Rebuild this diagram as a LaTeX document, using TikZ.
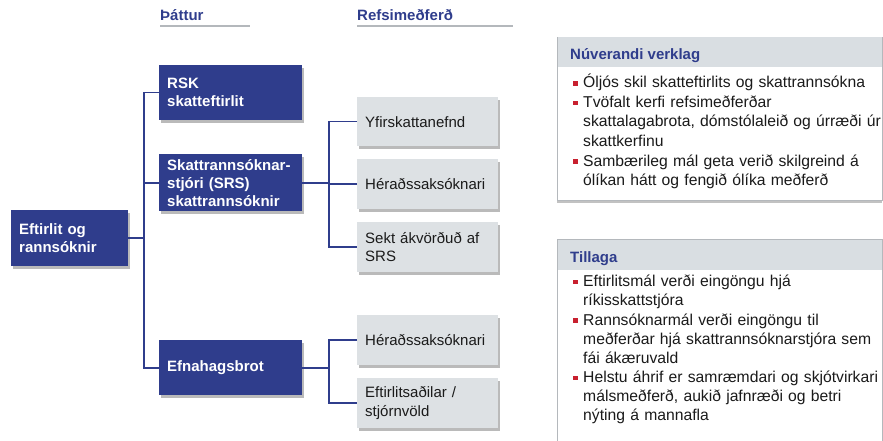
\documentclass[tikz,border=0pt]{standalone}
\usepackage{fontspec}
\setmainfont{Liberation Sans}
\usetikzlibrary{shadows}
\definecolor{navy}{HTML}{2F3D8C}
\definecolor{boxgray}{HTML}{DDE1E4}
\definecolor{bandgray}{HTML}{D9DEE2}
\definecolor{linegray}{HTML}{B4B8BC}
\definecolor{bulred}{HTML}{C8202F}
\definecolor{txt}{HTML}{1A1A1A}
\begin{document}
\begin{tikzpicture}[x=1pt,y=-1pt,
  shad/.style={drop shadow={shadow xshift=2pt,shadow yshift=-2.5pt,opacity=.45,fill=black!60}},
  darkbox/.style={shad,fill=navy,text=white,font=\fontsize{15}{18}\selectfont\bfseries,align=left,anchor=north west,inner xsep=8pt,inner ysep=0pt,minimum width=143pt,text width=127pt},
  graybox/.style={shad,fill=boxgray,text=txt,font=\fontsize{15}{18.5}\selectfont,align=left,anchor=north west,inner xsep=8pt,inner ysep=0pt,minimum width=141pt,text width=125pt,minimum height=50pt},
  conn/.style={draw=navy,line width=1.6pt},
  hdr/.style={text=navy,font=\fontsize{15}{18}\selectfont\bfseries,anchor=base west,inner sep=0pt},
  uline/.style={draw=linegray,line width=1.2pt},
  panel/.style={drop shadow={shadow xshift=0pt,shadow yshift=-3pt,opacity=.4,fill=black!60},fill=white,draw=linegray,line width=0.6pt,anchor=north west,inner sep=0pt,minimum width=325pt},
  band/.style={fill=bandgray,anchor=north west,inner sep=0pt,minimum width=324.4pt,minimum height=30pt},
  ptitle/.style={text=navy,font=\fontsize{15}{18}\selectfont\bfseries,anchor=base west,inner sep=0pt},
  bul/.style={fill=bulred,minimum size=4.5pt,inner sep=0pt},
  ptext/.style={text=txt,font=\fontsize{15.7}{19.5}\selectfont,align=left,text width=305pt,anchor=base west,inner sep=0pt},
  ptextb/.style={ptext,font=\fontsize{15.7}{19.2}\selectfont}
]
\useasboundingbox (0,0) rectangle (883,441);

% column headers
\node[hdr] (h1) at (160,20.5) {Þáttur};
\node[hdr] (h2) at (357,20.5) {Refsimeðferð};
\draw[uline] (160,26) -- (250,26);
\draw[uline] (357,26) -- (513,26);

% tree
\node[darkbox,minimum width=117pt,text width=101pt,minimum height=56pt] (eft) at (11,210) {Eftirlit og\\rannsóknir};
\node[darkbox,minimum height=55pt] (rsk) at (159,65) {RSK\\skatteftirlit};
\node[darkbox,minimum height=57pt] (srs) at (159,154) {Skattrannsóknar-\\stjóri (SRS)\\skattrannsóknir};
\node[darkbox,minimum height=55pt] (efn) at (159,340) {Efnahagsbrot};

\node[graybox,minimum height=49pt] (yfir) at (357,97) {Yfirskattanefnd};
\node[graybox] (her1) at (357,159) {Héraðssaksóknari};
\node[graybox] (sekt) at (357,222) {Sekt ákvörðuð af\\SRS};
\node[graybox] (her2) at (357,315) {Héraðssaksóknari};
\node[graybox] (eftirl) at (357,378) {Eftirlitsaðilar /\\stjórnvöld};

\coordinate (t1) at (144,0);
\coordinate (t2) at (329,0);
\draw[conn] (eft.east) -- (eft.east -| t1);
\draw[conn] (rsk.west) -- (rsk.west -| t1) -- (efn.west -| t1) -- (efn.west);
\draw[conn] (srs.west) -- (srs.west -| t1);
\draw[conn] (srs.east) -- (srs.east -| t2);
\draw[conn] (yfir.west) -- (yfir.west -| t2) -- (sekt.west -| t2) -- (sekt.west);
\draw[conn] (her1.west) -- (her1.west -| t2);
\draw[conn] (efn.east) -- (efn.east -| t2);
\draw[conn] (her2.west) -- (her2.west -| t2) -- (eftirl.west -| t2) -- (eftirl.west);

% panel 1
\node[panel,minimum height=163pt] (p1) at (557,37) {};
\node[band] (b1) at (557.3,37.3) {};
\node[ptitle] (p1t) at (570,59.5) {Núverandi verklag};
\node[bul] (u1) at (575.5,83.5) {};
\node[ptext] (x1) at (583,88) {Óljós skil skatteftirlits og skattrannsókna};
\node[bul] (u2) at (575.5,103) {};
\node[ptext] (x2) at (583,107.5) {Tvöfalt kerfi refsimeðferðar\\skattalagabrota, dómstólaleið og úrræði úr\\skattkerfinu};
\node[bul] (u3) at (575.5,161.5) {};
\node[ptext] (x3) at (583,166) {Sambærileg mál geta verið skilgreind á\\ólíkan hátt og fengið ólíka meðferð};

% panel 2
\node[panel,minimum height=210pt] (p2) at (557,239) {};
\node[band] (b2) at (557.3,239.3) {};
\node[ptitle] (p2t) at (570,262) {Tillaga};
\node[bul] (v1) at (575.5,282) {};
\node[ptextb] (y1) at (583,286.5) {Eftirlitsmál verði eingöngu hjá\\ríkisskattstjóra};
\node[bul] (v2) at (575.5,320.5) {};
\node[ptextb] (y2) at (583,325) {Rannsóknarmál verði eingöngu til\\meðferðar hjá skattrannsóknarstjóra sem\\fái ákæruvald};
\node[bul] (v3) at (575.5,378) {};
\node[ptextb] (y3) at (583,382.5) {Helstu áhrif er samræmdari og skjótvirkari\\málsmeðferð, aukið jafnræði og betri\\nýting á mannafla};
\end{tikzpicture}
\end{document}
